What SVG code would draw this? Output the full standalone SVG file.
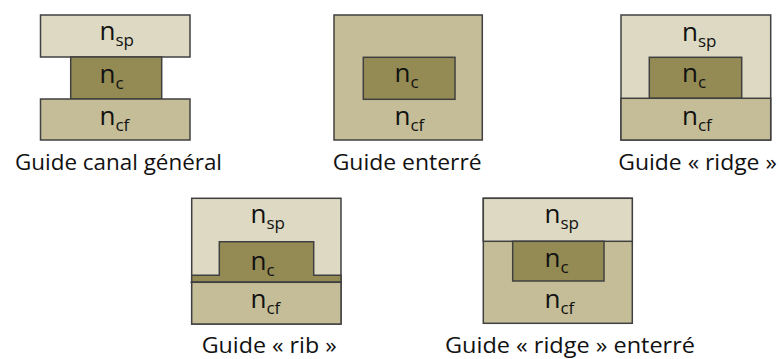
<svg xmlns="http://www.w3.org/2000/svg" width="779" height="359" viewBox="0 0 779 359">
<style>
.sp{fill:#DDD9C3;stroke:#404040;stroke-width:1.5}
.cf{fill:#C4BD97;stroke:#404040;stroke-width:1.5}
.c{fill:#948A54;stroke:#404040;stroke-width:1.5}
.ln{stroke:#404040;stroke-width:1.5;fill:none}
.n{font-family:"Open Sans","Liberation Sans",sans-serif;font-size:26px;fill:#111}
.sub{font-size:17px}
.lbl{font-family:"Open Sans","Liberation Sans",sans-serif;font-size:21px;fill:#111}
</style>
<rect width="779" height="359" fill="#fff"/>
<g id="guide-canal">
<rect class="sp" x="40.5" y="15" width="149.5" height="42"/>
<rect class="c" x="70.7" y="57" width="91" height="42"/>
<rect class="cf" x="40.5" y="99" width="149.5" height="41"/>
<text class="n" x="99.5" y="40">n<tspan class="sub" dy="6">sp</tspan></text>
<text class="n" x="99.5" y="83">n<tspan class="sub" dy="6">c</tspan></text>
<text class="n" x="99.5" y="125">n<tspan class="sub" dy="6">cf</tspan></text>
<text class="lbl" x="15" y="170" textLength="207" lengthAdjust="spacingAndGlyphs">Guide canal général</text>
</g>
<g id="guide-enterre">
<rect class="cf" x="334" y="15" width="148.3" height="125"/>
<rect class="c" x="363.3" y="57.3" width="91.7" height="42"/>
<text class="n" x="394.5" y="82">n<tspan class="sub" dy="6">c</tspan></text>
<text class="n" x="394.5" y="125">n<tspan class="sub" dy="6">cf</tspan></text>
<text class="lbl" x="332.7" y="170" textLength="149" lengthAdjust="spacingAndGlyphs">Guide enterré</text>
</g>
<g id="guide-ridge">
<rect class="sp" x="621" y="15" width="149.7" height="125"/>
<rect class="c" x="649.3" y="57.3" width="92.4" height="41"/>
<rect class="cf" x="621" y="98.3" width="149.7" height="41.7"/>
<text class="n" x="682" y="41">n<tspan class="sub" dy="6">sp</tspan></text>
<text class="n" x="682" y="82">n<tspan class="sub" dy="6">c</tspan></text>
<text class="n" x="682" y="125">n<tspan class="sub" dy="6">cf</tspan></text>
<text class="lbl" x="618.3" y="170" textLength="158.5" lengthAdjust="spacingAndGlyphs">Guide « ridge »</text>
</g>
<g id="guide-rib">
<rect class="sp" x="191.7" y="198.3" width="149.3" height="125.7"/>
<path class="c" d="M191.7 275.3 H219.3 V241.7 H313.7 V275.3 H341 V282.3 H191.7 Z"/>
<rect class="cf" x="191.7" y="282.3" width="149.3" height="41.7"/>
<line class="ln" x1="190.5" y1="282.3" x2="341" y2="282.3"/>
<text class="n" x="250.5" y="222.7">n<tspan class="sub" dy="6">sp</tspan></text>
<text class="n" x="250.5" y="270">n<tspan class="sub" dy="6">c</tspan></text>
<text class="n" x="250.5" y="307.7">n<tspan class="sub" dy="6">cf</tspan></text>
<text class="lbl" x="201.7" y="353" textLength="135" lengthAdjust="spacingAndGlyphs">Guide « rib »</text>
</g>
<g id="guide-ridge-enterre">
<rect class="cf" x="483.3" y="198.3" width="149" height="125"/>
<rect class="sp" x="483.3" y="198.3" width="149" height="43"/>
<rect class="c" x="512.7" y="241.3" width="91.3" height="39.7"/>
<text class="n" x="544.5" y="223.3">n<tspan class="sub" dy="6">sp</tspan></text>
<text class="n" x="544.5" y="267.3">n<tspan class="sub" dy="6">c</tspan></text>
<text class="n" x="544.5" y="308.3">n<tspan class="sub" dy="6">cf</tspan></text>
<text class="lbl" x="445" y="353" textLength="250" lengthAdjust="spacingAndGlyphs">Guide « ridge » enterré</text>
</g>
<g id="connectors"/>
</svg>
